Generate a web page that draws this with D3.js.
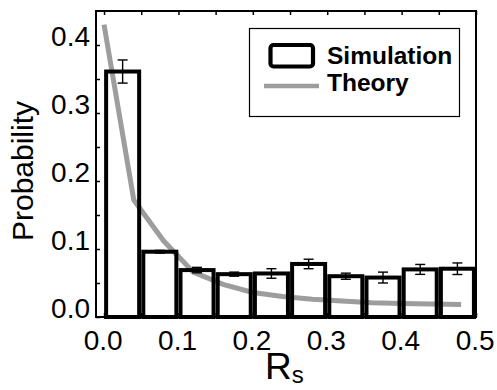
<!DOCTYPE html>
<html>
<head>
<meta charset="utf-8">
<script src="https://cdn.jsdelivr.net/npm/d3@7"></script>
<style>
  body { margin: 0; background: #fff; }
  svg { display: block; font-family: "Liberation Sans", Arial, sans-serif; }
</style>
</head>
<body>
<div id="chart"></div>
<script>
// Simulation histogram (bin centres, probabilities, error bar half-widths)
const binCenters = [0.025, 0.075, 0.125, 0.175, 0.225, 0.275, 0.325, 0.375, 0.425, 0.475];
const simValues  = [0.361, 0.096, 0.069, 0.063, 0.064, 0.078, 0.060, 0.058, 0.070, 0.071];
const simErrors  = [0.017, 0.002, 0.004, 0.003, 0.007, 0.007, 0.0045, 0.008, 0.0073, 0.0085];

// Theory curve
const theoryX      = [0.00, 0.04, 0.08, 0.12, 0.16, 0.20, 0.24, 0.28, 0.32, 0.36, 0.40, 0.44, 0.48];
const theoryValues = [0.430, 0.172, 0.112, 0.066, 0.048, 0.036, 0.030, 0.026, 0.0235, 0.021, 0.020, 0.019, 0.0185];

// Axis ticks
const xTickLabels = [0.0, 0.1, 0.2, 0.3, 0.4, 0.5];
const xMinorTicks = [0.0, 0.05, 0.1, 0.15, 0.2, 0.25, 0.3, 0.35, 0.4, 0.45, 0.5];
const yTickLabels = [0.0, 0.1, 0.2, 0.3, 0.4];
const yMinorTicks = [0.0, 0.05, 0.1, 0.15, 0.2, 0.25, 0.3, 0.35, 0.4];

const legendLabels = ['Simulation', 'Theory'];

const W = 497, H = 390;
const margin = { top: 11, right: 21, bottom: 73, left: 96 };
const width = W - margin.left - margin.right;
const height = H - margin.top - margin.bottom;
const barWidth = 0.0444;
const grey = '#9d9d9d';

const svg = d3.select('#chart').append('svg')
  .attr('width', W)
  .attr('height', H);

const g = svg.append('g')
  .attr('transform', `translate(${margin.left},${margin.top})`);

const x = d3.scaleLinear().domain([-0.0108, 0.5]).range([0, width]);
const y = d3.scaleLinear().domain([0, 0.45]).range([height, 0]);

const bars = binCenters.map((c, i) => ({ c, v: simValues[i], e: simErrors[i] }));

// bar fills first so the theory line shows on top of them
g.selectAll('rect.fill')
  .data(bars)
  .enter().append('rect')
  .attr('class', 'fill')
  .attr('x', d => x(d.c - barWidth / 2))
  .attr('width', d => x(d.c + barWidth / 2) - x(d.c - barWidth / 2))
  .attr('y', d => y(d.v))
  .attr('height', d => y(0) - y(d.v))
  .attr('fill', '#fff');

// theory line
const line = d3.line()
  .x((d, i) => x(theoryX[i]))
  .y(d => y(d));

g.append('path')
  .datum(theoryValues)
  .attr('d', line)
  .attr('fill', 'none')
  .attr('stroke', grey)
  .attr('stroke-width', 5);

// bar outlines on top
g.selectAll('rect.edge')
  .data(bars)
  .enter().append('rect')
  .attr('class', 'edge')
  .attr('x', d => x(d.c - barWidth / 2))
  .attr('width', d => x(d.c + barWidth / 2) - x(d.c - barWidth / 2))
  .attr('y', d => y(d.v))
  .attr('height', d => y(0) - y(d.v))
  .attr('fill', 'none')
  .attr('stroke', '#000')
  .attr('stroke-width', 4);

// error bars
const eb = g.selectAll('g.err')
  .data(bars)
  .enter().append('g')
  .attr('class', 'err')
  .attr('stroke', '#000')
  .attr('stroke-width', 1.4);

eb.append('line')
  .attr('x1', d => x(d.c)).attr('x2', d => x(d.c))
  .attr('y1', d => y(d.v - d.e)).attr('y2', d => y(d.v + d.e));
eb.append('line')
  .attr('x1', d => x(d.c) - 5).attr('x2', d => x(d.c) + 5)
  .attr('y1', d => y(d.v + d.e)).attr('y2', d => y(d.v + d.e));
eb.append('line')
  .attr('x1', d => x(d.c) - 5).attr('x2', d => x(d.c) + 5)
  .attr('y1', d => y(d.v - d.e)).attr('y2', d => y(d.v - d.e));

// minor ticks (inward) on left, top and bottom
g.append('g')
  .call(d3.axisLeft(y).tickValues(yMinorTicks).tickSize(-4).tickFormat(''))
  .call(a => a.select('.domain').remove())
  .selectAll('line').attr('stroke-width', 1.5);

g.append('g')
  .call(d3.axisTop(x).tickValues(xMinorTicks).tickSize(-4).tickFormat(''))
  .call(a => a.select('.domain').remove())
  .selectAll('line').attr('stroke-width', 1.5);

g.append('g')
  .attr('transform', `translate(0,${height})`)
  .call(d3.axisBottom(x).tickValues(xMinorTicks).tickSize(-4).tickFormat(''))
  .call(a => a.select('.domain').remove())
  .selectAll('line').attr('stroke-width', 1.5);

// tick labels
const yAxis = g.append('g')
  .call(d3.axisLeft(y).tickValues(yTickLabels).tickSize(0).tickPadding(6).tickFormat(d3.format('.1f')));
yAxis.select('.domain').remove();
yAxis.selectAll('text')
  .attr('font-size', 28)
  .attr('font-family', '"Liberation Sans", Arial, sans-serif')
  .attr('fill', '#000')
  .attr('dy', '0.02em');

const xAxis = g.append('g')
  .attr('transform', `translate(0,${height})`)
  .call(d3.axisBottom(x).tickValues(xTickLabels).tickSize(0).tickPadding(13).tickFormat(d3.format('.1f')));
xAxis.select('.domain').remove();
xAxis.selectAll('text')
  .attr('font-size', 28)
  .attr('font-family', '"Liberation Sans", Arial, sans-serif')
  .attr('fill', '#000')
  .attr('dx', '-0.05em');

// axes box
g.append('rect')
  .attr('x', 0).attr('y', 0)
  .attr('width', width).attr('height', height)
  .attr('fill', 'none')
  .attr('stroke', '#000')
  .attr('stroke-width', 2);

// axis titles
svg.append('text')
  .attr('transform', 'translate(33,171) rotate(-90)')
  .attr('text-anchor', 'middle')
  .attr('font-size', 30)
  .text('Probability');

const xl = svg.append('text')
  .attr('x', 265)
  .attr('y', 379)
  .attr('font-size', 37);
xl.append('tspan').text('R');
xl.append('tspan').attr('font-size', 24).attr('dy', 4).text('s');

// legend
const lg = svg.append('g');
lg.append('rect')
  .attr('x', 249.5).attr('y', 28.5)
  .attr('width', 210).attr('height', 88)
  .attr('fill', '#fff')
  .attr('stroke', '#000')
  .attr('stroke-width', 1.2);
lg.append('rect')
  .attr('x', 270.5).attr('y', 45)
  .attr('width', 42.5).attr('height', 21.5)
  .attr('rx', 3)
  .attr('fill', '#fff')
  .attr('stroke', '#000')
  .attr('stroke-width', 4.2);
lg.append('line')
  .attr('x1', 264).attr('x2', 319)
  .attr('y1', 86).attr('y2', 86)
  .attr('stroke', grey)
  .attr('stroke-width', 4.5);
lg.selectAll('text.lab')
  .data(legendLabels)
  .enter().append('text')
  .attr('class', 'lab')
  .attr('x', 327)
  .attr('y', (d, i) => 64 + i * 27)
  .attr('font-size', 24.5)
  .attr('font-weight', 'bold')
  .text(d => d);
</script>
</body>
</html>
